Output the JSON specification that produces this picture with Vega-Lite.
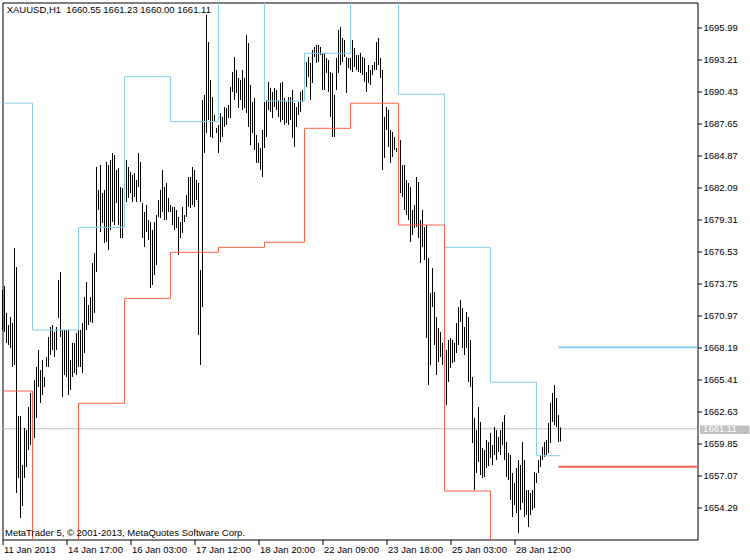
{
"$schema": "https://vega.github.io/schema/vega-lite/v6.json",
"width": 695, "height": 537,
"autosize": {"type": "none"},
"padding": {"left": 2.5, "top": 2.5, "right": 52.5, "bottom": 20.5},
"background": "white",
"config": {
"view": {"stroke": "black", "strokeWidth": 1, "fill": "white"},
"font": "Liberation Sans",
"axisX": {"grid": false, "domain": false, "ticks": true, "tickColor": "black", "tickSize": 5, "tickWidth": 1, "labelAlign": "left", "labelBaseline": "top", "labelPadding": 0, "labelOffset": 1, "labelFont": "Liberation Sans", "labelFontSize": 9.5, "labelColor": "black", "labelFlush": false, "labelOverlap": false, "labelBound": false},
"axisY": {"grid": false, "domain": false, "ticks": true, "tickColor": "black", "tickSize": 4, "tickWidth": 1, "labelPadding": 1.5, "labelFont": "Liberation Sans", "labelFontSize": 9.5, "labelColor": "black", "labelBaseline": "middle", "labelAlign": "left", "labelFlush": false, "labelOverlap": false, "labelBound": false}
},
"datasets": {
"bars": [
{"i":0,"price":1673.16,"low":1669.69},{"i":1,"price":1673.51,"low":1669.52},{"i":2,"price":1671.17,"low":1668.56},{"i":3,"price":1670.12,"low":1668.39},{"i":4,"price":1670.82,"low":1668.13},{"i":5,"price":1670.30,"low":1666.48},{"i":6,"price":1676.81,"low":1666.65},{"i":7,"price":1675.16,"low":1655.53},{"i":8,"price":1662.22,"low":1656.83},{"i":9,"price":1662.22,"low":1653.36},
{"i":10,"price":1657.96,"low":1654.40},{"i":11,"price":1661.18,"low":1656.83},{"i":12,"price":1661.00,"low":1657.79},{"i":13,"price":1663.00,"low":1659.26},{"i":14,"price":1664.22,"low":1659.70},{"i":15,"price":1663.35,"low":1659.26},{"i":16,"price":1665.35,"low":1660.31},{"i":17,"price":1666.48,"low":1662.04},{"i":18,"price":1667.95,"low":1664.74},{"i":19,"price":1666.21,"low":1663.35},
{"i":20,"price":1667.08,"low":1664.04},{"i":21,"price":1665.61,"low":1664.74},{"i":22,"price":1667.34,"low":1666.48},{"i":23,"price":1669.08,"low":1666.48},{"i":24,"price":1669.95,"low":1667.52},{"i":25,"price":1670.12,"low":1667.95},{"i":26,"price":1669.52,"low":1667.34},{"i":27,"price":1669.95,"low":1667.95},{"i":28,"price":1674.03,"low":1670.73},{"i":29,"price":1674.73,"low":1669.08},
{"i":30,"price":1669.69,"low":1663.87},{"i":31,"price":1669.69,"low":1665.78},{"i":32,"price":1669.69,"low":1665.61},{"i":33,"price":1669.69,"low":1664.04},{"i":34,"price":1667.08,"low":1664.48},{"i":35,"price":1668.56,"low":1665.61},{"i":36,"price":1668.56,"low":1665.95},{"i":37,"price":1669.43,"low":1665.78},{"i":38,"price":1669.95,"low":1666.48},{"i":39,"price":1669.69,"low":1666.48},
{"i":40,"price":1670.30,"low":1665.95},{"i":41,"price":1672.56,"low":1667.69},{"i":42,"price":1673.86,"low":1669.69},{"i":43,"price":1671.86,"low":1670.12},{"i":44,"price":1672.56,"low":1670.38},{"i":45,"price":1675.51,"low":1670.30},{"i":46,"price":1676.38,"low":1671.17},{"i":47,"price":1683.85,"low":1674.73},{"i":48,"price":1681.85,"low":1680.12},{"i":49,"price":1684.02,"low":1678.20},
{"i":50,"price":1681.59,"low":1678.99},{"i":51,"price":1681.85,"low":1677.25},{"i":52,"price":1684.29,"low":1677.34},{"i":53,"price":1684.02,"low":1676.64},{"i":54,"price":1684.46,"low":1678.38},{"i":55,"price":1685.07,"low":1679.07},{"i":56,"price":1684.89,"low":1678.81},{"i":57,"price":1683.59,"low":1680.72},{"i":58,"price":1683.76,"low":1678.81},{"i":59,"price":1682.11,"low":1677.68},
{"i":60,"price":1682.03,"low":1677.68},{"i":61,"price":1684.63,"low":1679.85},{"i":62,"price":1684.46,"low":1680.81},{"i":63,"price":1683.85,"low":1681.16},{"i":64,"price":1683.42,"low":1681.59},{"i":65,"price":1683.16,"low":1680.81},{"i":66,"price":1683.33,"low":1681.24},{"i":67,"price":1682.72,"low":1680.81},{"i":68,"price":1685.07,"low":1682.11},{"i":69,"price":1684.29,"low":1680.81},
{"i":70,"price":1680.72,"low":1677.68},{"i":71,"price":1679.94,"low":1676.90},{"i":72,"price":1680.55,"low":1678.20},{"i":73,"price":1679.25,"low":1677.51},{"i":74,"price":1679.07,"low":1673.34},{"i":75,"price":1678.38,"low":1673.60},{"i":76,"price":1679.07,"low":1674.47},{"i":77,"price":1679.68,"low":1675.34},{"i":78,"price":1680.98,"low":1679.51},{"i":79,"price":1681.85,"low":1679.42},
{"i":80,"price":1683.59,"low":1679.94},{"i":81,"price":1682.11,"low":1679.25},{"i":82,"price":1682.46,"low":1679.25},{"i":83,"price":1681.16,"low":1679.94},{"i":84,"price":1680.55,"low":1679.94},{"i":85,"price":1680.38,"low":1678.81},{"i":86,"price":1680.38,"low":1678.38},{"i":87,"price":1680.12,"low":1678.55},{"i":88,"price":1679.51,"low":1676.21},{"i":89,"price":1679.07,"low":1677.68},
{"i":90,"price":1680.38,"low":1678.12},{"i":91,"price":1679.68,"low":1679.07},{"i":92,"price":1681.42,"low":1679.51},{"i":93,"price":1682.98,"low":1680.38},{"i":94,"price":1682.98,"low":1680.29},{"i":95,"price":1683.85,"low":1680.55},{"i":96,"price":1683.59,"low":1680.38},{"i":97,"price":1682.72,"low":1680.98},{"i":98,"price":1682.46,"low":1669.26},{"i":99,"price":1674.90,"low":1666.65},
{"i":100,"price":1689.67,"low":1671.69},{"i":101,"price":1690.11,"low":1685.07},{"i":102,"price":1697.06,"low":1686.80},{"i":103,"price":1694.71,"low":1687.93},{"i":104,"price":1691.41,"low":1686.46},{"i":105,"price":1689.93,"low":1686.37},{"i":106,"price":1688.37,"low":1687.76},{"i":107,"price":1687.24,"low":1686.80},{"i":108,"price":1687.50,"low":1685.07},{"i":109,"price":1688.54,"low":1686.02},
{"i":110,"price":1688.20,"low":1686.46},{"i":111,"price":1689.06,"low":1687.33},{"i":112,"price":1688.98,"low":1687.50},{"i":113,"price":1689.24,"low":1688.11},{"i":114,"price":1690.80,"low":1688.11},{"i":115,"price":1692.10,"low":1690.37},{"i":116,"price":1693.41,"low":1689.67},{"i":117,"price":1692.28,"low":1690.28},{"i":118,"price":1691.58,"low":1688.98},{"i":119,"price":1691.41,"low":1689.67},
{"i":120,"price":1692.28,"low":1688.80},{"i":121,"price":1691.58,"low":1688.98},{"i":122,"price":1695.32,"low":1688.54},{"i":123,"price":1694.62,"low":1687.33},{"i":124,"price":1690.98,"low":1685.76},{"i":125,"price":1689.50,"low":1686.80},{"i":126,"price":1689.85,"low":1685.33},{"i":127,"price":1686.63,"low":1684.20},{"i":128,"price":1685.94,"low":1684.20},{"i":129,"price":1685.50,"low":1683.59},
{"i":130,"price":1687.07,"low":1682.98},{"i":131,"price":1689.50,"low":1685.50},{"i":132,"price":1689.67,"low":1686.46},{"i":133,"price":1691.24,"low":1688.80},{"i":134,"price":1690.71,"low":1688.63},{"i":135,"price":1690.37,"low":1688.11},{"i":136,"price":1690.71,"low":1689.06},{"i":137,"price":1690.54,"low":1688.80},{"i":138,"price":1689.67,"low":1688.20},{"i":139,"price":1691.15,"low":1687.76},
{"i":140,"price":1691.24,"low":1687.93},{"i":141,"price":1689.85,"low":1687.50},{"i":142,"price":1689.50,"low":1687.67},{"i":143,"price":1689.93,"low":1687.50},{"i":144,"price":1689.93,"low":1687.93},{"i":145,"price":1690.54,"low":1686.37},{"i":146,"price":1689.41,"low":1685.59},{"i":147,"price":1689.06,"low":1687.33},{"i":148,"price":1689.50,"low":1688.37},{"i":149,"price":1690.37,"low":1688.63},
{"i":150,"price":1690.54,"low":1689.50},{"i":151,"price":1692.89,"low":1690.37},{"i":152,"price":1692.97,"low":1690.80},{"i":153,"price":1693.41,"low":1691.67},{"i":154,"price":1692.89,"low":1689.67},{"i":155,"price":1694.02,"low":1691.15},{"i":156,"price":1694.28,"low":1693.41},{"i":157,"price":1694.45,"low":1692.89},{"i":158,"price":1694.45,"low":1692.97},{"i":159,"price":1694.28,"low":1693.58},
{"i":160,"price":1693.76,"low":1690.54},{"i":161,"price":1693.76,"low":1690.54},{"i":162,"price":1693.32,"low":1692.02},{"i":163,"price":1693.15,"low":1690.37},{"i":164,"price":1692.10,"low":1688.20},{"i":165,"price":1692.02,"low":1686.46},{"i":166,"price":1690.11,"low":1686.46},{"i":167,"price":1693.32,"low":1690.54},{"i":168,"price":1695.75,"low":1692.02},{"i":169,"price":1696.01,"low":1692.71},
{"i":170,"price":1695.06,"low":1692.97},{"i":171,"price":1694.88,"low":1693.41},{"i":172,"price":1693.41,"low":1690.28},{"i":173,"price":1693.32,"low":1692.45},{"i":174,"price":1693.32,"low":1692.28},{"i":175,"price":1694.88,"low":1692.10},{"i":176,"price":1694.19,"low":1692.54},{"i":177,"price":1693.58,"low":1692.28},{"i":178,"price":1693.58,"low":1692.10},{"i":179,"price":1693.76,"low":1692.02},
{"i":180,"price":1693.41,"low":1691.84},{"i":181,"price":1693.32,"low":1691.24},{"i":182,"price":1692.10,"low":1690.37},{"i":183,"price":1692.71,"low":1691.15},{"i":184,"price":1692.28,"low":1690.98},{"i":185,"price":1692.71,"low":1691.84},{"i":186,"price":1692.97,"low":1692.28},{"i":187,"price":1694.71,"low":1692.28},{"i":188,"price":1695.06,"low":1692.71},{"i":189,"price":1693.32,"low":1691.58},
{"i":190,"price":1692.28,"low":1683.59},{"i":191,"price":1688.20,"low":1684.63},{"i":192,"price":1689.06,"low":1687.07},{"i":193,"price":1688.80,"low":1685.59},{"i":194,"price":1687.07,"low":1684.20},{"i":195,"price":1686.89,"low":1684.72},{"i":196,"price":1686.46,"low":1685.33},{"i":197,"price":1685.50,"low":1685.15},{"i":198,"price":1686.80,"low":1681.24},{"i":199,"price":1686.20,"low":1681.59},
{"i":200,"price":1684.02,"low":1681.24},{"i":201,"price":1684.02,"low":1680.12},{"i":202,"price":1682.72,"low":1679.68},{"i":203,"price":1682.46,"low":1679.25},{"i":204,"price":1682.11,"low":1677.34},{"i":205,"price":1680.12,"low":1677.94},{"i":206,"price":1680.55,"low":1678.55},{"i":207,"price":1682.98,"low":1678.64},{"i":208,"price":1682.55,"low":1677.68},{"i":209,"price":1679.25,"low":1675.51},
{"i":210,"price":1680.12,"low":1676.90},{"i":211,"price":1678.64,"low":1675.77},{"i":212,"price":1678.81,"low":1668.99},{"i":213,"price":1675.95,"low":1664.91},{"i":214,"price":1672.90,"low":1666.65},{"i":215,"price":1675.08,"low":1671.69},{"i":216,"price":1672.99,"low":1668.39},{"i":217,"price":1670.82,"low":1665.78},{"i":218,"price":1669.86,"low":1666.91},{"i":219,"price":1669.52,"low":1667.34},
{"i":220,"price":1668.56,"low":1666.65},{"i":221,"price":1669.08,"low":1666.82},{"i":222,"price":1667.95,"low":1663.17},{"i":223,"price":1668.82,"low":1665.17},{"i":224,"price":1668.99,"low":1666.39},{"i":225,"price":1668.82,"low":1666.82},{"i":226,"price":1668.56,"low":1666.91},{"i":227,"price":1670.30,"low":1667.69},{"i":228,"price":1671.69,"low":1668.39},{"i":229,"price":1672.30,"low":1670.38},
{"i":230,"price":1671.60,"low":1668.13},{"i":231,"price":1669.95,"low":1667.52},{"i":232,"price":1671.25,"low":1668.13},{"i":233,"price":1670.82,"low":1665.17},{"i":234,"price":1668.82,"low":1664.74},{"i":235,"price":1665.61,"low":1659.87},{"i":236,"price":1662.04,"low":1655.79},{"i":237,"price":1661.00,"low":1657.27},{"i":238,"price":1663.00,"low":1658.22},{"i":239,"price":1661.70,"low":1657.09},
{"i":240,"price":1659.44,"low":1656.83},{"i":241,"price":1659.26,"low":1656.92},{"i":242,"price":1660.13,"low":1657.70},{"i":243,"price":1659.96,"low":1657.87},{"i":244,"price":1660.74,"low":1658.57},{"i":245,"price":1659.70,"low":1657.96},{"i":246,"price":1661.26,"low":1658.83},{"i":247,"price":1661.00,"low":1658.40},{"i":248,"price":1660.39,"low":1659.09},{"i":249,"price":1661.00,"low":1658.83},
{"i":250,"price":1661.70,"low":1659.70},{"i":251,"price":1662.30,"low":1658.40},{"i":252,"price":1659.96,"low":1656.92},{"i":253,"price":1659.00,"low":1656.66},{"i":254,"price":1658.83,"low":1654.92},{"i":255,"price":1657.27,"low":1653.44},{"i":256,"price":1656.40,"low":1654.49},{"i":257,"price":1657.70,"low":1653.79},{"i":258,"price":1658.40,"low":1652.05},{"i":259,"price":1657.96,"low":1654.05},
{"i":260,"price":1659.96,"low":1654.66},{"i":261,"price":1658.40,"low":1653.44},{"i":262,"price":1655.79,"low":1653.62},{"i":263,"price":1655.79,"low":1652.57},{"i":264,"price":1655.53,"low":1653.62},{"i":265,"price":1655.79,"low":1654.05},{"i":266,"price":1657.35,"low":1654.22},{"i":267,"price":1657.27,"low":1656.40},{"i":268,"price":1658.40,"low":1657.27},{"i":269,"price":1658.83,"low":1657.79},
{"i":270,"price":1659.52,"low":1658.40},{"i":271,"price":1659.96,"low":1658.66},{"i":272,"price":1660.13,"low":1658.83},{"i":273,"price":1661.61,"low":1659.00},{"i":274,"price":1663.35,"low":1659.87},{"i":275,"price":1664.22,"low":1661.70},{"i":276,"price":1664.91,"low":1661.44},{"i":277,"price":1663.78,"low":1661.26},{"i":278,"price":1662.30,"low":1659.96},{"i":279,"price":1661.23,"low":1660.00}
],
"bands": [
{"series":"upper","i":0,"price":1689.39},{"series":"upper","i":15,"price":1669.69},{"series":"upper","i":38,"price":1678.61},{"series":"upper","i":61,"price":1691.70},{"series":"upper","i":84,"price":1687.79},{"series":"upper","i":108,"price":1700.5},{"series":"upper","i":131,"price":1689.59},{"series":"upper","i":151,"price":1693.73},{"series":"upper","i":174,"price":1700.5},{"series":"upper","i":198,"price":1690.17},{"series":"upper","i":221,"price":1676.87},{"series":"upper","i":244,"price":1665.15},{"series":"upper","i":267,"price":1658.77},{"series":"upper","i":279,"price":1658.77},
{"series":"lower","i":0,"price":1664.39},{"series":"lower","i":15,"price":1650},{"series":"lower","i":38,"price":1663.32},{"series":"lower","i":61,"price":1672.44},{"series":"lower","i":84,"price":1676.44},{"series":"lower","i":108,"price":1676.87},{"series":"lower","i":131,"price":1677.31},{"series":"lower","i":151,"price":1687.21},{"series":"lower","i":174,"price":1689.39},{"series":"lower","i":198,"price":1678.81},{"series":"lower","i":221,"price":1655.70},{"series":"lower","i":244,"price":1650},{"series":"lower","i":279,"price":1650}
],
"levels": [
{"series":"upper","i":278,"price":1668.19},{"series":"lower","i":278,"price":1657.81}
]
},
"layer": [
{
"encoding": {
"x": {"field": "i", "type": "quantitative", "scale": {"domain": [0, 347.5], "nice": false, "zero": false},
"axis": {"values": [0,32,64,96,128,160,192,224,256], "labelExpr": "['11 Jan 2013','14 Jan 17:00','16 Jan 03:00','17 Jan 12:00','18 Jan 20:00','22 Jan 09:00','23 Jan 18:00','25 Jan 03:00','28 Jan 12:00'][round(datum.value/32)]", "title": null}},
"y": {"field": "price", "type": "quantitative", "scale": {"domain": [1651.49, 1698.14], "nice": false, "zero": false},
"axis": {"orient": "right", "values": [1654.29,1657.07,1659.85,1662.63,1665.41,1668.19,1670.97,1673.75,1676.53,1679.31,1682.09,1684.87,1687.65,1690.43,1693.21,1695.99], "format": ".2f", "title": null}}
},
"layer": [
{
"data": {"values": [{"i": 0, "price": 1661.11}]},
"mark": {"type": "rule", "color": "#C0C0C0", "strokeWidth": 1},
"encoding": {"x2": {"datum": 347.5}}
},
{
"data": {"name": "bars"},
"mark": {"type": "rule", "color": "black", "strokeWidth": 1},
"encoding": {"y2": {"field": "low"}}
},
{
"data": {"name": "bands"},
"mark": {"type": "line", "interpolate": "step-after", "strokeWidth": 1, "clip": true},
"encoding": {
"color": {"field": "series", "type": "nominal", "scale": {"domain": ["upper", "lower"], "range": ["#87CEEB", "#FF6347"]}, "legend": null}
}
},
{
"data": {"name": "levels"},
"mark": {"type": "rule", "strokeWidth": 2, "clip": true},
"encoding": {
"x2": {"datum": 347.5},
"color": {"field": "series", "type": "nominal", "scale": {"domain": ["upper", "lower"], "range": ["#87CEEB", "#FF6347"]}, "legend": null}
}
}
]
},
{
"data": {"values": [{"price": 1661.11}]},
"mark": {"type": "rect", "color": "#C0C0C0", "clip": false},
"encoding": {
"x": {"datum": 348.75, "type": "quantitative", "scale": {"domain": [0, 347.5], "nice": false, "zero": false},
"axis": {"values": [0,32,64,96,128,160,192,224,256], "labelExpr": "['11 Jan 2013','14 Jan 17:00','16 Jan 03:00','17 Jan 12:00','18 Jan 20:00','22 Jan 09:00','23 Jan 18:00','25 Jan 03:00','28 Jan 12:00'][round(datum.value/32)]", "title": null}},
"x2": {"datum": 373.5},
"y": {"datum": 1661.39, "type": "quantitative", "scale": {"domain": [1651.49, 1698.14], "nice": false, "zero": false},
"axis": {"orient": "right", "values": [1654.29,1657.07,1659.85,1662.63,1665.41,1668.19,1670.97,1673.75,1676.53,1679.31,1682.09,1684.87,1687.65,1690.43,1693.21,1695.99], "format": ".2f", "title": null}},
"y2": {"datum": 1660.65}
}
},
{
"data": {"values": [{"price": 1661.11}]},
"mark": {"type": "text", "color": "white", "align": "left", "baseline": "middle", "font": "Liberation Sans", "fontSize": 9.5, "clip": false},
"encoding": {
"x": {"datum": 350.3, "type": "quantitative", "scale": {"domain": [0, 347.5], "nice": false, "zero": false},
"axis": {"values": [0,32,64,96,128,160,192,224,256], "labelExpr": "['11 Jan 2013','14 Jan 17:00','16 Jan 03:00','17 Jan 12:00','18 Jan 20:00','22 Jan 09:00','23 Jan 18:00','25 Jan 03:00','28 Jan 12:00'][round(datum.value/32)]", "title": null}},
"y": {"field": "price", "type": "quantitative", "scale": {"domain": [1651.49, 1698.14], "nice": false, "zero": false},
"axis": {"orient": "right", "values": [1654.29,1657.07,1659.85,1662.63,1665.41,1668.19,1670.97,1673.75,1676.53,1679.31,1682.09,1684.87,1687.65,1690.43,1693.21,1695.99], "format": ".2f", "title": null}},
"text": {"field": "price", "type": "quantitative", "format": ".2f"}
}
},
{
"data": {"values": [{"label": "XAUUSD,H1\u00a0 1660.55 1661.23 1660.00 1661.11"}]},
"mark": {"type": "text", "color": "black", "align": "left", "baseline": "alphabetic", "font": "Liberation Sans", "fontSize": 9.5},
"encoding": {
"x": {"datum": 2.1, "type": "quantitative", "scale": {"domain": [0, 347.5], "nice": false, "zero": false},
"axis": {"values": [0,32,64,96,128,160,192,224,256], "labelExpr": "['11 Jan 2013','14 Jan 17:00','16 Jan 03:00','17 Jan 12:00','18 Jan 20:00','22 Jan 09:00','23 Jan 18:00','25 Jan 03:00','28 Jan 12:00'][round(datum.value/32)]", "title": null}},
"y": {"datum": 1697.26, "type": "quantitative", "scale": {"domain": [1651.49, 1698.14], "nice": false, "zero": false},
"axis": {"orient": "right", "values": [1654.29,1657.07,1659.85,1662.63,1665.41,1668.19,1670.97,1673.75,1676.53,1679.31,1682.09,1684.87,1687.65,1690.43,1693.21,1695.99], "format": ".2f", "title": null}},
"text": {"field": "label"}
}
},
{
"data": {"values": [{"label": "MetaTrader 5, © 2001-2013, MetaQuotes Software Corp."}]},
"mark": {"type": "text", "color": "black", "align": "left", "baseline": "alphabetic", "font": "Liberation Sans", "fontSize": 9.5},
"encoding": {
"x": {"datum": 1.25, "type": "quantitative", "scale": {"domain": [0, 347.5], "nice": false, "zero": false},
"axis": {"values": [0,32,64,96,128,160,192,224,256], "labelExpr": "['11 Jan 2013','14 Jan 17:00','16 Jan 03:00','17 Jan 12:00','18 Jan 20:00','22 Jan 09:00','23 Jan 18:00','25 Jan 03:00','28 Jan 12:00'][round(datum.value/32)]", "title": null}},
"y": {"datum": 1651.79, "type": "quantitative", "scale": {"domain": [1651.49, 1698.14], "nice": false, "zero": false},
"axis": {"orient": "right", "values": [1654.29,1657.07,1659.85,1662.63,1665.41,1668.19,1670.97,1673.75,1676.53,1679.31,1682.09,1684.87,1687.65,1690.43,1693.21,1695.99], "format": ".2f", "title": null}},
"text": {"field": "label"}
}
}
]
}
